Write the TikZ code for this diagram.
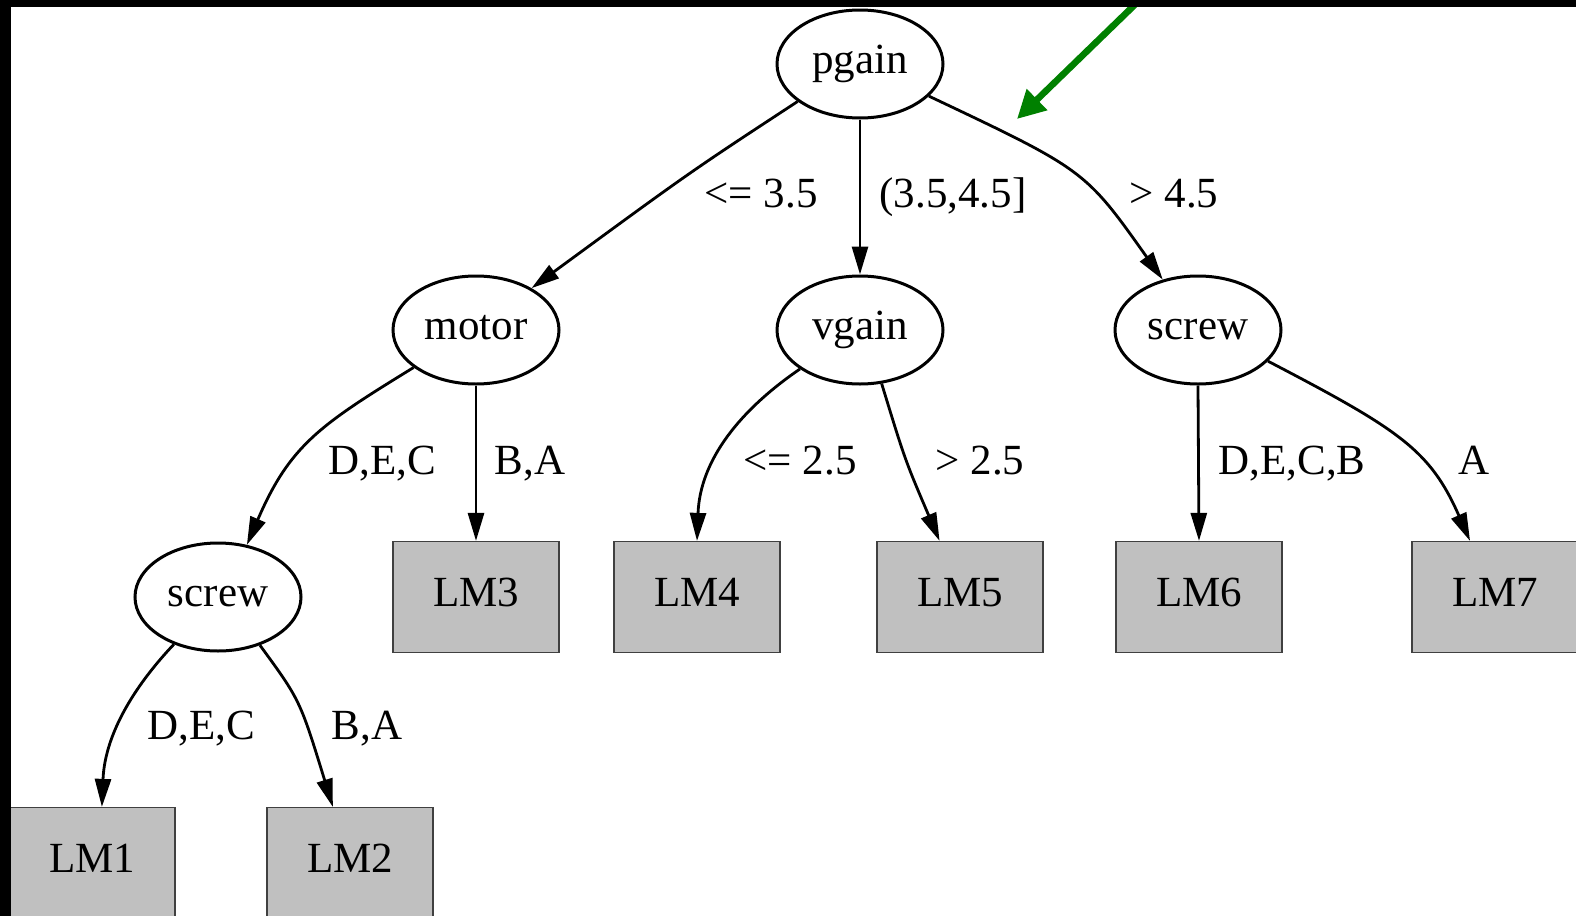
\documentclass[tikz,border=0pt]{standalone}
\usepackage{fontspec}
\setmainfont{Liberation Serif}
\usepackage{xcolor}
\definecolor{leafGray}{HTML}{C0C0C0}
\definecolor{pointerGreen}{HTML}{008000}
\usetikzlibrary{arrows.meta,shapes.geometric,calc}

\begin{document}
\begin{tikzpicture}[x=0.5pt,y=-0.5pt,
 treeFont/.style={font=\fontsize{21.5}{25}\selectfont},
 split/.style={ellipse,draw,line width=1.5pt,minimum width=83pt,minimum height=54pt,
 inner sep=0pt,text height=14.6pt,text depth=4.7pt,treeFont},
 leaf/.style={rectangle,draw=black!75,line width=0.6pt,fill=leafGray,minimum width=83pt,
 minimum height=55.5pt,inner sep=0pt,text height=14.6pt,text depth=4.7pt,treeFont},
 edgeLabel/.style={anchor=base,inner sep=0pt,treeFont},
 arr/.style={-{Triangle[length=14pt,width=8pt]},line width=1.4pt}]
 \useasboundingbox (0,0) rectangle (1576,916);
 \clip (0,0) rectangle (1576,916);
 % inner nodes
 \node[split] (pgain) at (860,64) {pgain};
 \node[split] (motor) at (476,330) {motor};
 \node[split] (vgain) at (860,330) {vgain};
 \node[split] (screwR) at (1198,330) {screw};
 \node[split] (screwL) at (218,597) {screw};
 % leaves
 \node[leaf] (lm3) at (476,597) {LM3};
 \node[leaf] (lm4) at (697,597) {LM4};
 \node[leaf] (lm5) at (960,597) {LM5};
 \node[leaf] (lm6) at (1199,597) {LM6};
 \node[leaf] (lm7) at (1495,597) {LM7};
 \node[leaf] (lm1) at (92,863) {LM1};
 \node[leaf] (lm2) at (350,863) {LM2};
 % edges
 \draw[arr] (pgain.211) .. controls (690,172) .. (motor.37);
 \draw[arr] (pgain.south) -- (vgain.north);
 \draw[arr] (pgain.335) .. controls (1085,170) .. (screwR.125);
 \draw[arr] (motor.211) .. controls (320,425) and (290,445) .. (screwL.61);
 \draw[arr] (motor.south) -- (lm3.north);
 \draw[arr] (vgain.213) .. controls (740,410) and (700,460) .. (lm4.north);
 \draw[arr] (vgain.292) .. controls (905,460) .. (lm5.110);
 \draw[arr] (screwR.south) -- (lm6.north);
 \draw[arr] (screwR.336) .. controls (1400,430) and (1430,450) .. (lm7.114);
 \draw[arr] (screwL.227) .. controls (140,680) and (105,730) .. (lm1.80);
 \draw[arr] (screwL.311) .. controls (300,700) .. (lm2.107);
 % edge labels
 \node[edgeLabel] (lblPa) at (761,207) {<= 3.5};
 \node[edgeLabel] (lblPb) at (953,207) {(3.5,4.5]};
 \node[edgeLabel] (lblPc) at (1174,207) {> 4.5};
 \node[edgeLabel] (lblMa) at (382,474) {D,E,C};
 \node[edgeLabel] (lblMb) at (530,474) {B,A};
 \node[edgeLabel] (lblVa) at (800,474) {<= 2.5};
 \node[edgeLabel] (lblVb) at (980,474) {> 2.5};
 \node[edgeLabel] (lblSa) at (1292,474) {D,E,C,B};
 \node[edgeLabel] (lblSb) at (1474,474) {A};
 \node[edgeLabel] (lblLa) at (201,739) {D,E,C};
 \node[edgeLabel] (lblLb) at (367,739) {B,A};
 % pointer and frame
 \coordinate (pointerTail) at (1150,-10);
 \coordinate (pointerTip) at (1017,119);
 \draw[pointerGreen,line width=3.3pt,-{Triangle[length=14pt,width=14pt]}] (pointerTail) -- (pointerTip);
 \fill[black] (0,0) rectangle (1576,7);
 \fill[black] (0,0) rectangle (11,916);
\end{tikzpicture}
\end{document}
